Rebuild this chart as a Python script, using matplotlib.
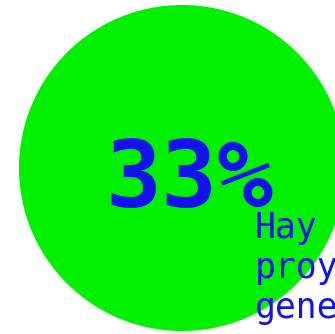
import matplotlib
matplotlib.use("Agg")
import matplotlib.pyplot as plt
from matplotlib.patches import Circle

value = 33
label = f"{value}%"
caption_lines = ["Hay", "proy", "gene"]

W, H = 335, 334
fig = plt.figure(figsize=(W / 100, H / 100), dpi=100)
ax = fig.add_axes([0, 0, 1, 1])
ax.set_xlim(0, W)
ax.set_ylim(H, 0)
ax.axis("off")

green = "#00f000"
blue = "#1212ee"

ax.add_patch(Circle((182, 168), 163, color=green, lw=0))

ax.text(105, 207, label, fontsize=67, fontweight="bold", family="DejaVu Sans Mono",
        color=blue, ha="left", va="baseline")

for i, line in enumerate(caption_lines):
    ax.text(255, 238 + i * 40, line, fontsize=25, family="DejaVu Sans Mono",
            color=blue, ha="left", va="baseline")

fig.savefig("out.png", dpi=100)
